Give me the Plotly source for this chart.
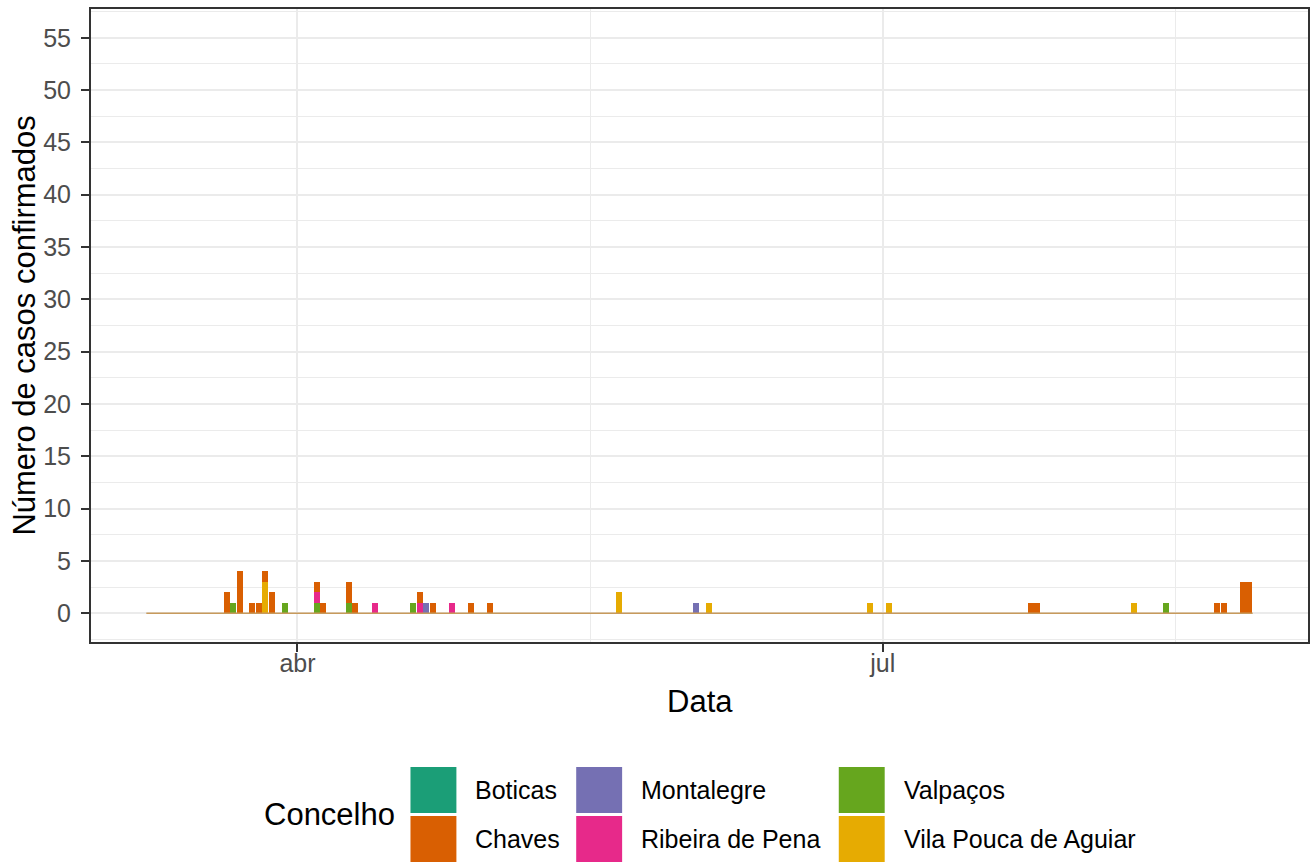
import pandas as pd
import plotly.graph_objects as go

# ---------------- data ----------------
concelhos = ["Boticas", "Chaves", "Montalegre", "Ribeira de Pena", "Valpaços", "Vila Pouca de Aguiar"]
colors = ["#1B9E77", "#D95F02", "#7570B3", "#E7298A", "#66A61E", "#E6AB02"]

date_start = "2020-03-09"
date_end = "2020-08-27"

boticas_dates = []
boticas_vals = []

chaves_dates = ["2020-03-21", "2020-03-23", "2020-03-25", "2020-03-26", "2020-03-27", "2020-03-28",
                "2020-04-04", "2020-04-05", "2020-04-09", "2020-04-10", "2020-04-20", "2020-04-22",
                "2020-04-28", "2020-05-01", "2020-07-24", "2020-07-25", "2020-08-22", "2020-08-23",
                "2020-08-26", "2020-08-27"]
chaves_vals = [2, 4, 1, 1, 1, 2, 1, 1, 2, 1, 1, 1, 1, 1, 1, 1, 1, 1, 3, 3]

montalegre_dates = ["2020-04-21", "2020-06-02"]
montalegre_vals = [1, 1]

ribeira_dates = ["2020-04-04", "2020-04-13", "2020-04-20", "2020-04-25"]
ribeira_vals = [1, 1, 1, 1]

valpacos_dates = ["2020-03-22", "2020-03-30", "2020-04-04", "2020-04-09", "2020-04-19", "2020-08-14"]
valpacos_vals = [1, 1, 1, 1, 1, 1]

vilapouca_dates = ["2020-03-27", "2020-05-21", "2020-06-04", "2020-06-29", "2020-07-02", "2020-08-09"]
vilapouca_vals = [3, 2, 1, 1, 1, 1]

x_tick_vals = ["2020-04-01", "2020-07-01"]
x_tick_text = ["abr", "jul"]
x_minor_vals = ["2020-05-16 12:00", "2020-08-15 12:00"]
y_tick_vals = [0, 5, 10, 15, 20, 25, 30, 35, 40, 45, 50, 55]
y_limits = [0, 55]

series = {
    "Boticas": (boticas_dates, boticas_vals),
    "Chaves": (chaves_dates, chaves_vals),
    "Montalegre": (montalegre_dates, montalegre_vals),
    "Ribeira de Pena": (ribeira_dates, ribeira_vals),
    "Valpaços": (valpacos_dates, valpacos_vals),
    "Vila Pouca de Aguiar": (vilapouca_dates, vilapouca_vals),
}

# ---------------- figure ----------------
FONT = "Liberation Sans"
W, H = 1312, 862
ML, MR, MT, MB = 91, 2, 9, 220
PW, PH = W - ML - MR, H - MT - MB

def fx(px):
    return (px - ML) / PW

def fy(py):
    return (H - MB - py) / PH

day = pd.Timedelta(days=1)
fig = go.Figure()

# ggplot stacks first level on top -> add traces in reverse order
for name, col in reversed(list(zip(concelhos, colors))):
    d, v = series[name]
    fig.add_trace(go.Bar(
        x=pd.to_datetime(d), y=v, name=name, marker=dict(color=col, line=dict(width=0)),
        width=0.93 * 86400000, showlegend=False,
    ))

# zero-height bars for all days appear as a thin line at 0
d0 = pd.Timestamp(date_start) - day / 2
d1 = pd.Timestamp(date_end) + day / 2
fig.add_trace(go.Scatter(x=[d0, d1], y=[0, 0], mode="lines",
                         line=dict(color="#C79A5C", width=1.5), showlegend=False, hoverinfo="skip"))

span = d1 - d0
xr = [d0 - span * 0.05, d1 + span * 0.05]
yspan = y_limits[1] - y_limits[0]
yr = [y_limits[0] - 0.05 * yspan, y_limits[1] + 0.05 * yspan]

fig.update_layout(
    width=W, height=H, barmode="stack", bargap=0,
    margin=dict(l=ML, r=MR, t=MT, b=MB),
    paper_bgcolor="white", plot_bgcolor="white",
    font=dict(family=FONT, color="black"),
    showlegend=False,
)
fig.update_xaxes(
    range=xr, type="date", tickmode="array", tickvals=x_tick_vals, ticktext=x_tick_text,
    tickfont=dict(size=25, color="#4D4D4D", family=FONT),
    ticks="outside", ticklen=8, tickwidth=2, tickcolor="#333333", ticklabelstandoff=-10,
    showgrid=True, gridcolor="#EBEBEB", gridwidth=2,
    minor=dict(tickmode="array", tickvals=x_minor_vals, showgrid=True, gridcolor="#EBEBEB", gridwidth=1, ticks=""),
    showline=True, linecolor="#333333", linewidth=2, mirror=True, zeroline=False,
)
fig.update_yaxes(
    range=yr, tickmode="array", tickvals=y_tick_vals,
    tickfont=dict(size=25, color="#4D4D4D", family=FONT),
    ticks="outside", ticklen=8, tickwidth=2, tickcolor="#333333", ticklabelstandoff=5,
    showgrid=True, gridcolor="#EBEBEB", gridwidth=2,
    minor=dict(dtick=2.5, tick0=2.5, showgrid=True, gridcolor="#EBEBEB", gridwidth=1, ticks=""),
    showline=True, linecolor="#333333", linewidth=2, mirror=True, zeroline=False,
)

annotations = [
    dict(text="Número de casos confirmados", x=fx(24), y=fy((MT + H - MB) / 2), xref="paper", yref="paper",
         textangle=-90, showarrow=False, font=dict(size=31, color="black", family=FONT),
         xanchor="center", yanchor="middle"),
    dict(text="Data", x=fx(ML + PW / 2), y=fy(701), xref="paper", yref="paper",
         showarrow=False, font=dict(size=31, color="black", family=FONT), xanchor="center", yanchor="middle"),
    dict(text="Concelho", x=fx(262), y=fy(815), xref="paper", yref="paper",
         showarrow=False, font=dict(size=31, color="black", family=FONT), xanchor="left", yanchor="middle"),
]
shapes = []
KEY = 46
col_x = [411, 577, 840]
row_y = [767, 816]
for i, (name, col) in enumerate(zip(concelhos, colors)):
    c, r = i // 2, i % 2
    x0, y0 = col_x[c], row_y[r]
    shapes.append(dict(type="rect", xref="paper", yref="paper", x0=fx(x0), x1=fx(x0 + KEY),
                       y0=fy(y0), y1=fy(y0 + KEY), fillcolor=col, line=dict(width=0), layer="above"))
    annotations.append(dict(text=name, x=fx(x0 + 63), y=fy(y0 + KEY / 2), xref="paper", yref="paper",
                            showarrow=False, font=dict(size=25, color="black", family=FONT),
                            xanchor="left", yanchor="middle"))

fig.update_layout(annotations=annotations, shapes=shapes)
fig.write_html("out.html", config={"displayModeBar": False},
               post_script="document.body.style.margin='0';document.body.style.overflow='hidden';")
